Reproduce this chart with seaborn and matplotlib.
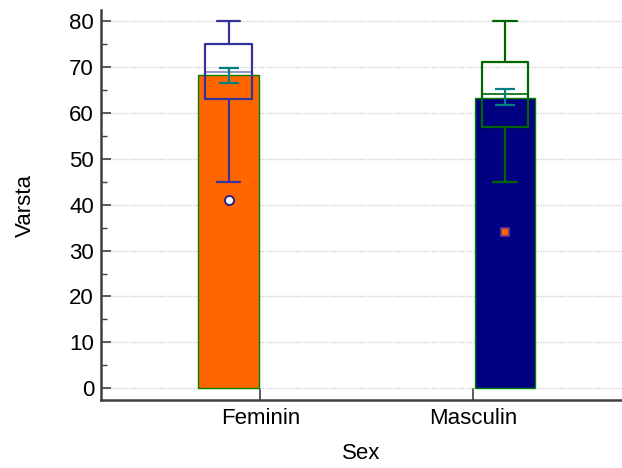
import matplotlib
matplotlib.use('Agg')
import matplotlib.pyplot as plt
from matplotlib.ticker import MultipleLocator
import pandas as pd
import seaborn as sns

# 데이터
sexes = ['Feminin', 'Masculin']
mean_age = [68.2, 63.3]
se_low = [66.6, 61.7]
se_high = [69.7, 65.3]
box_q1 = [63, 57]
box_median = [69, 64]
box_q3 = [75, 71]
whisker_low = [45, 45]
whisker_high = [80, 80]
outliers = [[41], [34]]

bar_colors = ['#FF6600', '#000080']
box_colors = ['#333399', '#006600']

sns.set_style('ticks')
plt.rcParams['font.family'] = ['Liberation Sans', 'DejaVu Sans']
plt.rcParams['font.size'] = 16
plt.rcParams['text.color'] = 'black'
plt.rcParams['axes.labelcolor'] = 'black'
plt.rcParams['xtick.labelcolor'] = 'black'
plt.rcParams['ytick.labelcolor'] = 'black'

df = pd.DataFrame({'Sex': sexes, 'Varsta': mean_age})

fig = plt.figure(figsize=(6.22, 4.68), dpi=100)
ax = fig.add_axes([0.1624, 0.1453, 0.8376, 0.8333])

# 평균 막대 (hue로 좌우 엇갈리게)
sns.barplot(data=df, x='Sex', y='Varsta', hue='Sex', hue_order=sexes,
            palette=bar_colors, saturation=1, dodge=True, width=0.6, gap=0.05,
            errorbar=None, legend=False, edgecolor='#008000', linewidth=1,
            ax=ax, zorder=2)

centers = sorted(p.get_x() + p.get_width() / 2 for p in ax.patches
                 if p.get_height() > 0)

# 상자 그림
for i, c in enumerate(centers):
    stats = [{'med': box_median[i], 'q1': box_q1[i], 'q3': box_q3[i],
              'whislo': whisker_low[i], 'whishi': whisker_high[i],
              'fliers': []}]
    col = box_colors[i]
    ax.bxp(stats, positions=[c], widths=0.22, capwidths=0.11,
           manage_ticks=False, showfliers=False,
           boxprops=dict(color=col, linewidth=1.6),
           whiskerprops=dict(color=col, linewidth=1.6),
           capprops=dict(color=col, linewidth=1.6),
           medianprops=dict(color=col, linewidth=1.2,
                            alpha=0.6 if i == 0 else 1),
           zorder=3)

# 평균 ± 표준오차
for i, c in enumerate(centers):
    ax.errorbar([c], [mean_age[i]],
                yerr=[[mean_age[i] - se_low[i]], [se_high[i] - mean_age[i]]],
                fmt='none', ecolor='#008080', elinewidth=1.6, capsize=7,
                capthick=1.6, zorder=4)

# 이상치
ax.plot([centers[0]] * len(outliers[0]), outliers[0], 'o', ms=6.5,
        mfc='white', mec='#1a1a8c', mew=1.3, zorder=5)
ax.plot([centers[1]] * len(outliers[1]), outliers[1], 's', ms=6,
        mfc='#FF6600', mec='#663399', mew=1.2, zorder=5)

ax.set_xlim(-0.75, 1.70)
ax.set_ylim(-2.55, 82.4)
ax.yaxis.set_major_locator(MultipleLocator(10))
ax.yaxis.set_minor_locator(MultipleLocator(5))

ax.yaxis.grid(True, linestyle=(0, (1, 1)), color='#cccccc', linewidth=1,
              zorder=0)
ax.set_axisbelow(True)

sns.despine(ax=ax)
for s in ['left', 'bottom']:
    ax.spines[s].set_color('#404040')
    ax.spines[s].set_linewidth(1.8)

ax.tick_params(axis='both', which='major', direction='in', length=7,
               width=1.2, color='#404040', pad=5)
ax.tick_params(axis='x', which='major', length=9, pad=6)
ax.tick_params(axis='y', which='minor', direction='in', length=4,
               width=1, color='#404040')

ax.set_xlabel('Sex', labelpad=10)
ax.set_ylabel('Varsta', labelpad=24)

fig.savefig('out.png', dpi=100)
